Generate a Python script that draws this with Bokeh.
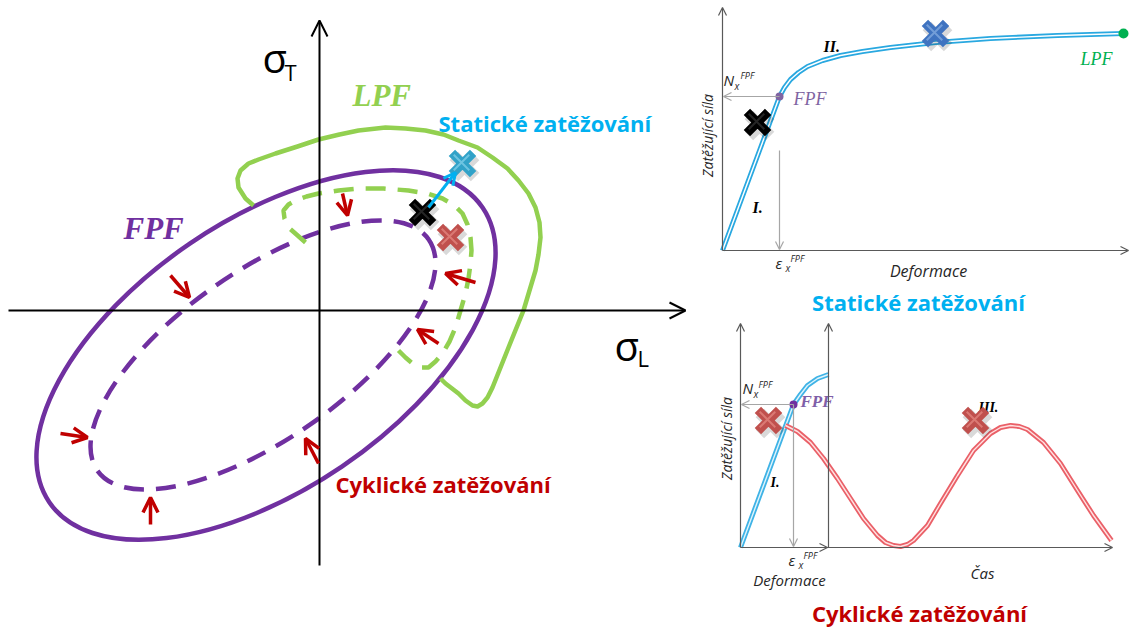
import numpy as np
from bokeh.plotting import figure
from bokeh.models import Range1d, Arrow, OpenHead, ColumnDataSource
from bokeh.embed import file_html
from bokeh.resources import INLINE
from bokeh.core.properties import value

PURPLE = "#7030a0"
GREEN = "#92d050"
RED = "#c00000"
CYAN = "#00b0f0"
GREY = "#595959"
DARK = "#262626"

# ---------------- failure envelopes in the (sigma_L, sigma_T) plane ----------------
# FPF envelope (solid) and the cyclic loading path (dashed), as rotated ellipses
fpf_center = (-53.5, -44.5)
fpf_axes = (262, 135)
fpf_angle = 34.2
cyc_center = (-56.5, -44.5)
cyc_axes = (202, 84)
cyc_angle = 34.9

# LPF envelope (open curve)
lpf_sigma_l = [-66, -74, -81, -82, -79, -71, -61, -44, -22, -1, 20, 39, 66, 86, 106, 124, 139, 158,
               173, 188, 199, 209, 216, 220, 221, 219, 216, 210, 204, 189, 173, 168, 163, 158,
               153, 146, 139, 126, 121]
lpf_sigma_t = [105, 112, 123, 132, 140, 147, 151, 157, 164, 171, 176, 180, 183, 182, 180, 176, 170, 163,
               153, 142, 130, 117, 103, 88, 73, 56, 40, 20, 0, -37, -77, -87, -93, -96,
               -95, -90, -83, -73, -68]

# degraded envelope under cyclic loading (dashed green)
deg_sigma_l = [-14, -23, -31, -35, -36, -31, -24, -13, -1, 19, 39, 64, 89, 108, 123, 135, 143, 148,
               151, 152, 151, 149, 146, 141, 136, 130, 123, 116, 109, 101, 93, 86, 79]
deg_sigma_t = [68, 76, 83, 92, 100, 106, 110, 114, 117, 120, 122, 122, 120, 117, 112, 105, 97, 86,
               73, 60, 47, 32, 17, 0, -17, -31, -43, -51, -57, -57, -53, -47, -40]

# cyclic load direction arrows (tail -> tip)
cyc_arrow_l0 = [23, 156, 119, -1, -169, -259, -149]
cyc_arrow_t0 = [117, 28, -33, -153, -214, -123, 35]
cyc_arrow_l1 = [28, 126, 98, -14, -169, -232, -130]
cyc_arrow_t1 = [95, 37, -19, -128, -187, -127, 13]

# load states: FPF state, static overload, cyclic state
state_l = [103, 143, 131]
state_t = [98, 147, 73]

# ---------------- static loading: force vs deformation ----------------
static_def = [0, 57, 62, 68, 76, 85, 100, 118, 140, 168, 213, 268, 335, 401]
static_force = [0, 154, 163, 171, 178, 184, 190, 195, 199, 203, 208, 212, 215, 217]
static_fpf = (57, 154)
static_states_def = [35, 213]
static_states_force = [128, 217]

# ---------------- cyclic loading: force vs deformation / time ----------------
cyc_def = [0, 53, 60, 67, 77, 88]
cyc_force = [0, 143, 153, 162, 169, 173]
cyc_fpf = (53, 143)
cyc_time = [45, 57, 70, 83, 97, 110, 123, 137, 145, 153, 160, 167, 173, 187, 200, 217, 233, 250,
            260, 270, 279, 287, 303, 320, 337, 353, 371]
cyc_load = [122, 116, 105, 89, 69, 49, 29, 12, 5, 2, 1, 3, 7, 22, 44, 72, 97, 114,
            120, 122, 121, 118, 105, 84, 57, 32, 7]
cyc_states_t = [28, 235]
cyc_states_f = [127, 127]

# page layout: one canvas, three panels with their own origins
W, H = 1131, 628
p = figure(width=W, height=H, x_range=Range1d(0, W), y_range=Range1d(0, H),
           output_backend="svg", toolbar_location=None, min_border=0,
           x_axis_location=None, y_axis_location=None,
           outline_line_color=None, background_fill_color="white",
           border_fill_color="white")
p.grid.visible = False

ORIGIN = {"stress": (319, 318), "static": (722, 378), "cyclic": (740, 81)}


def tx(panel, xs):
    return [ORIGIN[panel][0] + v for v in np.atleast_1d(xs)]


def ty(panel, ys):
    return [ORIGIN[panel][1] + v for v in np.atleast_1d(ys)]


def arrows(panel, xs, ys, xe, ye, color, width, head):
    src = ColumnDataSource(dict(xs=tx(panel, xs), ys=ty(panel, ys),
                                xe=tx(panel, xe), ye=ty(panel, ye)))
    p.add_layout(Arrow(end=OpenHead(size=head, line_color=color, line_width=width),
                       x_start="xs", y_start="ys", x_end="xe", y_end="ye", source=src,
                       line_color=color, line_width=width))


def label(panel, x, y, txt, size, color, font="Open Sans", style="normal",
          align="left", baseline="alphabetic", angle=0.0):
    lift = 0.38 * size if baseline == "alphabetic" else 0.0
    p.text(x=tx(panel, x), y=ty(panel, y + lift), text=[txt], text_font=value(font),
           text_font_size=f"{size}px", text_font_style=style, text_color=color,
           text_align=align, text_baseline=baseline, angle=angle)


def crosses(panel, xs, ys, base, light, size=30, width=9):
    X = np.array(tx(panel, xs), dtype=float)
    Y = np.array(ty(panel, ys), dtype=float)
    p.scatter(X + 2, Y - 3, marker="x", size=size, line_width=width + 3,
              line_color="#000000", line_alpha=0.15)
    p.scatter(X, Y, marker="x", size=size, line_width=width, line_color=base)
    p.scatter(X - 1, Y + 1, marker="x", size=size - 8, line_width=2,
              line_color=light, line_alpha=0.55)


def double_line(panel, x, y, outer, inner):
    p.line(tx(panel, x), ty(panel, y), line_color=outer, line_width=5, line_join="round")
    p.line(tx(panel, x), ty(panel, y), line_color=inner, line_width=1.4, line_join="round")


# ======================= stress plane =======================
S = "stress"
arrows(S, [-311], [0], [366], [0], "black", 2, 16)
arrows(S, [0], [-255], [0], [290], "black", 2, 16)

p.ellipse(x=tx(S, fpf_center[0]), y=ty(S, fpf_center[1]), width=[2 * fpf_axes[0]],
          height=[2 * fpf_axes[1]], angle=[fpf_angle], angle_units="deg",
          fill_color=None, line_color=PURPLE, line_width=4.5)
p.ellipse(x=tx(S, cyc_center[0]), y=ty(S, cyc_center[1]), width=[2 * cyc_axes[0]],
          height=[2 * cyc_axes[1]], angle=[cyc_angle], angle_units="deg",
          fill_color=None, line_color=PURPLE, line_width=4.5, line_dash="20 12")
p.line(tx(S, lpf_sigma_l), ty(S, lpf_sigma_t), line_color=GREEN, line_width=4.5,
       line_join="round")
p.line(tx(S, deg_sigma_l), ty(S, deg_sigma_t), line_color=GREEN, line_width=4.5,
       line_dash="20 12")

arrows(S, cyc_arrow_l0, cyc_arrow_t0, cyc_arrow_l1, cyc_arrow_t1, RED, 3.5, 15)

crosses(S, state_l[0:1], state_t[0:1], "#000000", "#444444")
crosses(S, state_l[2:3], state_t[2:3], "#c0504d", "#f09a94")
arrows(S, [state_l[0] + 6], [state_t[0] + 5], [state_l[1] - 7], [state_t[1] - 9], CYAN, 3, 12)
crosses(S, state_l[1:2], state_t[1:2], "#31a2c8", "#9fe0f5")

label(S, -57, 238, "σ", 40, "black")
label(S, -35, 230, "T", 22, "black")
label(S, 295, -50, "σ", 40, "black")
label(S, 318, -56, "L", 22, "black")
label(S, 33, 203, "LPF", 31, GREEN, font="Liberation Serif", style="bold italic")
label(S, -196, 70, "FPF", 31, PURPLE, font="Liberation Serif", style="bold italic")
label(S, 119, 179, "Statické zatěžování", 22, CYAN, style="bold")
label(S, 16, -182, "Cyklické zatěžování", 22, RED, style="bold")

# ======================= static loading =======================
T = "static"
arrows(T, [0], [0], [0], [243], GREY, 1.2, 8)
arrows(T, [0], [0], [406], [0], GREY, 1.2, 8)
arrows(T, [static_fpf[0]], [static_fpf[1]], [1], [static_fpf[1]], "#a6a6a6", 1.2, 8)
arrows(T, [static_fpf[0]], [100], [static_fpf[0]], [1], "#a6a6a6", 1.2, 8)

double_line(T, static_def, static_force, "#29a8e0", "white")
p.scatter(tx(T, static_fpf[0]), ty(T, static_fpf[1]), size=8, fill_color="#8064a2", line_color=None)
p.scatter(tx(T, static_def[-1]), ty(T, static_force[-1]), size=10, fill_color="#00b050",
          line_color=None)

crosses(T, static_states_def[0:1], static_states_force[0:1], "#000000", "#444444")
crosses(T, static_states_def[1:2], static_states_force[1:2], "#3f73c0", "#9dbfeb")

label(T, -15, 115, "Zatěžující síla", 14, DARK, style="italic", align="center",
      baseline="middle", angle=np.pi / 2)
label(T, 1, 165, "N", 15, DARK, style="italic")
label(T, 12, 161, "x", 10, DARK, style="italic")
label(T, 18, 172, "FPF", 9, DARK, style="italic")
label(T, 71, 145, "FPF", 18, "#8064a2", font="Liberation Serif", style="italic")
label(T, 101, 198, "II.", 16, "black", font="Liberation Serif", style="bold italic")
label(T, 30, 37, "I.", 16, "black", font="Liberation Serif", style="bold italic")
label(T, 358, 185, "LPF", 18, "#00b050", font="Liberation Serif", style="italic")
label(T, 53, -18, "ε", 15, DARK, style="italic")
label(T, 63, -21, "x", 10, DARK, style="italic")
label(T, 68, -11, "FPF", 9, DARK, style="italic")
label(T, 206, -27, "Deformace", 16, DARK, style="italic", align="center")
label(T, 196, -60, "Statické zatěžování", 22, CYAN, style="bold", align="center")

# ======================= cyclic loading =======================
C = "cyclic"
arrows(C, [0], [0], [0], [224], GREY, 1.2, 8)
arrows(C, [cyc_def[-1]], [0], [cyc_def[-1]], [224], GREY, 1.2, 8)
arrows(C, [0], [0], [372], [0], GREY, 1.2, 8)
arrows(C, [cyc_def[-1] - 8], [0], [cyc_def[-1] - 1], [0], GREY, 1.2, 8)
arrows(C, [cyc_fpf[0]], [cyc_fpf[1]], [1], [cyc_fpf[1]], "#a6a6a6", 1.2, 8)
arrows(C, [cyc_fpf[0]], [cyc_fpf[1]], [cyc_fpf[0]], [1], "#a6a6a6", 1.2, 8)

double_line(C, cyc_def, cyc_force, "#3fb3e6", "#dff4fc")
double_line(C, cyc_time, cyc_load, "#ea6068", "#ffe1e1")
p.scatter(tx(C, cyc_fpf[0]), ty(C, cyc_fpf[1]), size=8, fill_color=PURPLE, line_color=None)

label(C, 238, 135, "III.", 14, "black", font="Liberation Serif", style="bold italic")
crosses(C, cyc_states_t, cyc_states_f, "#c0504d", "#f09a94")

label(C, -14, 109, "Zatěžující síla", 14, DARK, style="italic", align="center",
      baseline="middle", angle=np.pi / 2)
label(C, 2, 154, "N", 15, DARK, style="italic")
label(C, 13, 150, "x", 10, DARK, style="italic")
label(C, 18, 160, "FPF", 9, DARK, style="italic")
label(C, 60, 140, "FPF", 17, "#7f5fa8", font="Liberation Serif", style="bold italic")
label(C, 30, 60, "I.", 14, "black", font="Liberation Serif", style="bold italic")
label(C, 48, -18, "ε", 15, DARK, style="italic")
label(C, 58, -21, "x", 10, DARK, style="italic")
label(C, 63, -11, "FPF", 9, DARK, style="italic")
label(C, 49, -38, "Deformace", 15, DARK, style="italic", align="center")
label(C, 242, -31, "Čas", 15, DARK, style="italic", align="center")
label(C, 179, -74, "Cyklické zatěžování", 22, RED, style="bold", align="center")

with open("out.html", "w") as f:
    f.write(file_html(p, INLINE))
